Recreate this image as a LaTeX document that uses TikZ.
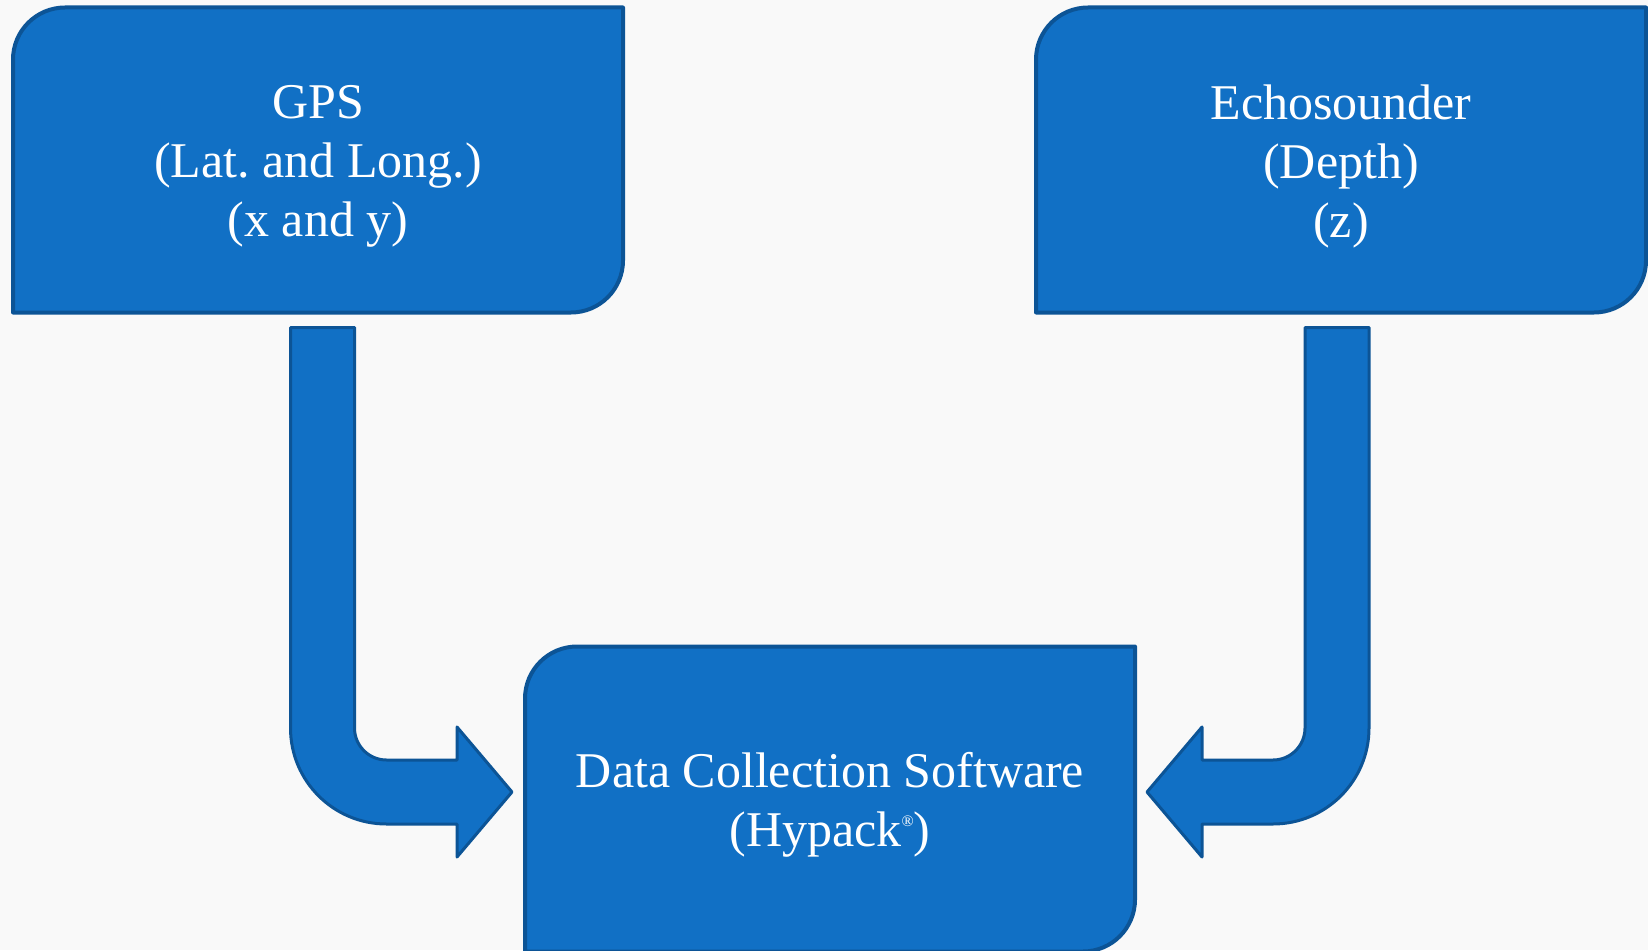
\documentclass[tikz,border=0pt]{standalone}
\usepackage{fontspec}
\setmainfont{Liberation Serif}
\usetikzlibrary{calc}
\usetikzlibrary{backgrounds}
\definecolor{boxblue}{RGB}{17,112,197}
\definecolor{boxedge}{RGB}{12,84,150}
\definecolor{slide}{RGB}{249,249,249}
\tikzset{
	device/.style={
		minimum width=305pt,
		minimum height=152.5pt,
		outer sep=0pt,
		text=white,
		align=center,
		font=\fontsize{25}{29.5}\selectfont,
	},
	devicebox/.style={
		fill=boxblue,
		draw=boxedge,
		line width=2pt,
		line join=round,
	},
	fatarrow/.style={
		fill=boxblue,
		draw=boxedge,
		line width=1.5pt,
		line join=round,
	},
}
% box with rounded top-left and bottom-right corners (text sits a bit low)
\newcommand{\cornerbox}[1]{%
	\draw[devicebox] ([yshift=3pt]#1.south west) -- ([yshift=-23pt]#1.north west)
		arc[start angle=180, end angle=90, radius=26pt]
		-- ([yshift=3pt]#1.north east) -- ([yshift=29pt]#1.south east)
		arc[start angle=0, end angle=-90, radius=26pt] -- cycle;
}
% bent block arrow: start (top of shaft), tip, side (1 = right, -1 = left)
\newcommand{\bentarrow}[3]{%
	\draw[fatarrow] let \p1=(#1), \p2=(#2) in
		({\x1-(#3)*16pt},\y1) -- ({\x1+(#3)*16pt},\y1)
		-- ({\x1+(#3)*16pt},\y2+32pt)
		arc[start angle={90+90*(#3)}, end angle={90+180*(#3)}, radius=16pt]
		-- ({\x2-(#3)*27.5pt},\y2+16pt) -- ({\x2-(#3)*27.5pt},\y2+32.5pt)
		-- (\x2,\y2)
		-- ({\x2-(#3)*27.5pt},\y2-32.5pt) -- ({\x2-(#3)*27.5pt},\y2-16pt)
		-- ({\x1+(#3)*32pt},\y2-16pt)
		arc[start angle={90+180*(#3)}, end angle={90+90*(#3)}, radius=48pt]
		-- cycle;
}

\begin{document}
\begin{tikzpicture}
	\useasboundingbox (0,0) rectangle (824pt,475pt);

	\node[device] (gps) at (159pt,392pt) {GPS\\(Lat.\ and Long.)\\(x and y)};
	\node[device] (echo) at (670.5pt,392pt) {Echosounder\\(Depth)\\(z)};
	\node[device] (data) at (415pt,72.5pt) {Data Collection Software\\(Hypack\raisebox{10pt}{\fontsize{8}{8}\selectfont\textregistered})};

	\begin{pgfonlayer}{background}
		\fill[slide] (0,0) rectangle (824pt,475pt);
		\cornerbox{gps}
		\cornerbox{echo}
		\cornerbox{data}
	\end{pgfonlayer}

	\coordinate (gpsout) at ($(gps.south)+(2.25pt,-4.5pt)$);
	\coordinate (echoout) at ($(echo.south)+(-2pt,-4.5pt)$);
	\coordinate (datawest) at ($(data.west)+(-6.5pt,6.5pt)$);
	\coordinate (dataeast) at ($(data.east)+(6pt,6.5pt)$);

	\bentarrow{gpsout}{datawest}{1}
	\bentarrow{echoout}{dataeast}{-1}
\end{tikzpicture}
\end{document}
